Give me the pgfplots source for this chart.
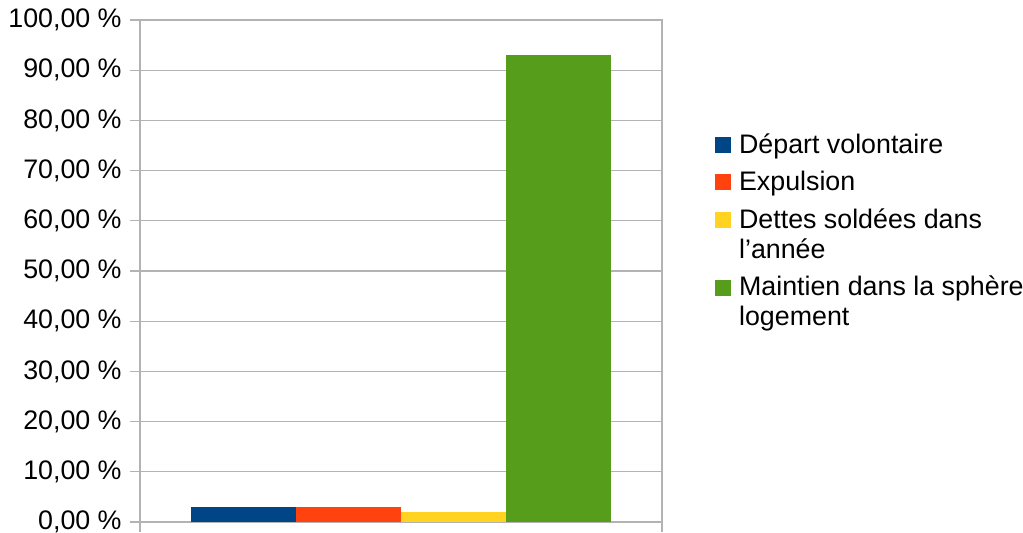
\documentclass[border=0pt]{standalone}
\usepackage{pgfplots}
\pgfplotsset{compat=1.18}
\usepackage{fontspec}
\setmainfont{Liberation Sans}
\definecolor{cblue}{HTML}{004586}
\definecolor{corange}{HTML}{FF420E}
\definecolor{cyellow}{HTML}{FFD320}
\definecolor{cgreen}{HTML}{579D1C}
\definecolor{cgrid}{HTML}{B3B3B3}
\begin{document}
\begin{tikzpicture}
\path[use as bounding box] (0,0) rectangle (511.5pt,266.5pt);
\begin{axis}[
  at={(70pt,5.5pt)}, anchor=south west,
  scale only axis, width=261pt, height=251pt,
  ybar=0pt, bar width=0.402,
  xmin=-1, xmax=1, ymin=0, ymax=100,
  xtick={-1,1}, xticklabels={,},
  tick pos=left,
  ytick={0,10,...,100},
  yticklabels={{0,00 \%},{10,00 \%},{20,00 \%},{30,00 \%},{40,00 \%},{50,00 \%},{60,00 \%},{70,00 \%},{80,00 \%},{90,00 \%},{100,00 \%}},
  ymajorgrids, grid style={cgrid, line width=0.6pt},
  axis line style={cgrid, line width=0.6pt},
  tick style={cgrid, line width=0.6pt},
  tick align=outside, major tick length=5pt,
  yticklabel style={font=\fontsize{13.4}{15}\selectfont, inner sep=0pt, xshift=-4pt},
  legend style={draw=none, at={(1.101,0.781)}, anchor=north west,
    font=\fontsize{13.4}{15}\selectfont, inner sep=0pt,
    nodes={align=left, inner sep=1.5pt},
    row sep=4.5pt, column sep=2.5pt},
  legend cell align=left,
  /pgfplots/legend image code/.code={\fill[#1] (0pt,-4pt) rectangle (8pt,4pt);},
]
\addplot[fill=cblue, draw=none] coordinates {(0,3)};
\addlegendentry{Départ volontaire}
\addplot[fill=corange, draw=none] coordinates {(0,3)};
\addlegendentry{Expulsion}
\addplot[fill=cyellow, draw=none,
  legend image code/.code={\path[draw=none,fill=none] (0pt,-11.5pt) rectangle (8pt,11.5pt); \fill[cyellow] (0pt,3.5pt) rectangle (8pt,11.5pt);}] coordinates {(0,2)};
\addlegendentry{Dettes soldées dans\\l’année}
\addplot[fill=cgreen, draw=none,
  legend image code/.code={\path[draw=none,fill=none] (0pt,-11.5pt) rectangle (8pt,11.5pt); \fill[cgreen] (0pt,3.5pt) rectangle (8pt,11.5pt);}] coordinates {(0,93)};
\addlegendentry{Maintien dans la sphère\\logement}
\end{axis}
\end{tikzpicture}
\end{document}
